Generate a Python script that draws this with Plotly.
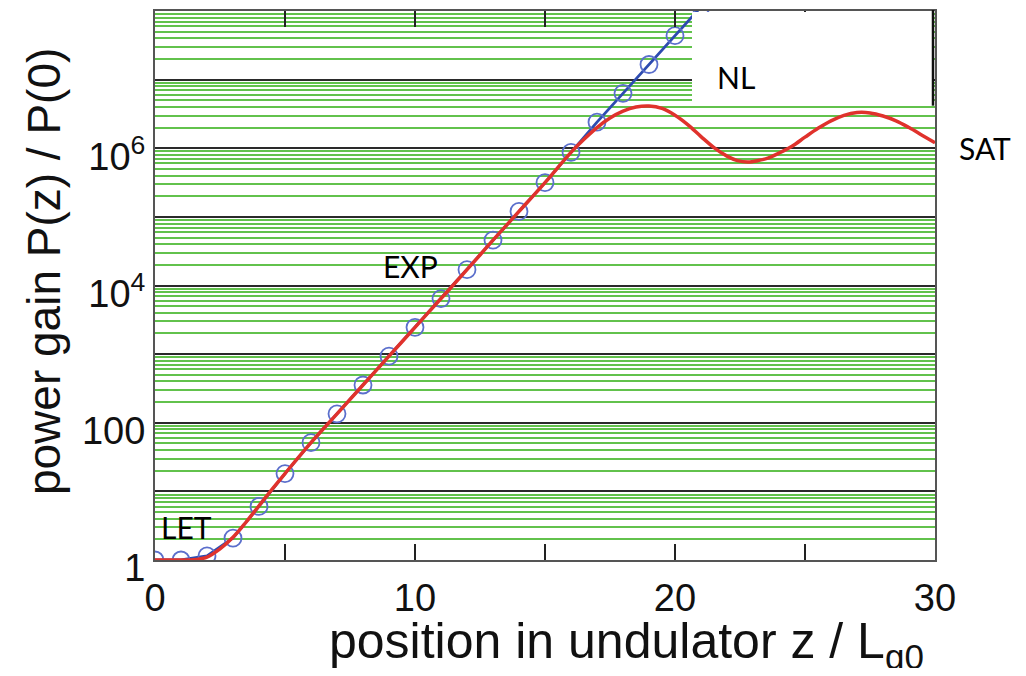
import plotly.graph_objects as go

# ---- data ----
z_theory = [0, 1, 2, 3, 4, 5, 6, 7, 8, 9, 10, 11, 12, 13, 14, 15, 16, 17, 18, 19, 20, 21]
gain_theory = [1.0, 1.0, 1.15, 2.09, 6.03, 18.2, 51.3, 135, 355, 933, 2455, 6457,
               1.70e4, 4.57e4, 1.20e5, 3.16e5, 8.71e5, 2.40e6, 6.31e6, 1.66e7, 4.37e7, 1.15e8]

z_sim = [0, 1, 1.5, 2, 2.5, 3, 3.5, 4, 4.5, 5, 6, 7, 8, 9, 10, 11, 12, 13, 14, 15, 16,
         16.5, 17, 17.5, 18, 18.5, 19, 19.5, 20, 20.5, 21, 21.5, 22, 22.4, 22.8, 23.2,
         23.6, 24, 24.5, 25, 25.5, 26, 26.5, 27, 27.5, 28, 28.5, 29, 29.5, 30]
gain_sim = [1.0, 1.0, 1.01, 1.10, 1.45, 2.14, 3.55, 6.17, 10.7, 18.2, 51.3, 135, 355, 933,
            2455, 6457, 1.70e4, 4.57e4, 1.20e5, 3.16e5, 8.71e5, 1.35e6, 2.0e6, 2.75e6,
            3.47e6, 3.98e6, 4.12e6, 3.80e6, 3.02e6, 2.19e6, 1.48e6, 1.02e6, 7.67e5, 6.61e5,
            6.31e5, 6.61e5, 7.24e5, 8.51e5, 1.07e6, 1.45e6, 1.95e6, 2.51e6, 3.02e6, 3.31e6,
            3.27e6, 2.95e6, 2.51e6, 2.0e6, 1.55e6, 1.20e6]

x_tickvals = [0, 5, 10, 15, 20, 25, 30]
x_ticktext = ["0", "", "10", "", "20", "", "30"]
y_tickvals = [1, 10, 100, 1e3, 1e4, 1e5, 1e6, 1e7, 1e8]
y_ticktext = ["1", "", "100", "", "10<sup>4</sup>", "", "10<sup>6</sup>", "", ""]
region_labels = ["LET", "EXP", "NL", "SAT"]
x_title = "position in undulator z / L<sub>g0</sub>"
y_title = "power gain P(z) / P(0)"

minor_vals = [m * 10 ** k for k in range(8) for m in range(2, 10)]

# page body has an 8px margin; figure sized to fit the 1026x676 window
OFF = 8
W, H = 1010, 660
L, T = 155 - OFF, 8 - OFF + 1
PR, PB = 935 - OFF, 560 - OFF
R, B = W - PR, H - PB
pw, ph = PR - L, PB - T


def px(x):
    return (x - OFF - L) / pw


def py(y):
    return (PB - (y - OFF)) / ph


fig = go.Figure()
fig.add_trace(go.Scatter(
    x=z_theory, y=gain_theory, mode="lines+markers",
    line=dict(color="#2d4bb0", width=2.8),
    marker=dict(symbol="circle-open", size=17, color="#5b6fcc", line=dict(width=1.8)),
    showlegend=False))
fig.add_trace(go.Scatter(
    x=z_sim, y=gain_sim, mode="lines", line=dict(color="#e0322c", width=3.5, shape="spline"),
    showlegend=False))

fig.update_layout(
    width=W, height=H,
    margin=dict(l=L, r=R, t=T, b=B),
    paper_bgcolor="white", plot_bgcolor="white",
    font=dict(family="Liberation Sans, Arial, sans-serif", color="#111"),
    xaxis=dict(
        range=[0, 30], tickvals=x_tickvals, ticktext=x_ticktext,
        ticks="inside", ticklen=16, tickwidth=2, tickcolor="#222",
        showline=True, linecolor="#555", linewidth=2, mirror="ticks",
        showgrid=False, zeroline=False, ticklabelstandoff=3,
        tickfont=dict(size=38),
    ),
    yaxis=dict(
        type="log", range=[0, 8], tickvals=y_tickvals, ticktext=y_ticktext,
        ticks="", showline=True, linecolor="#555", linewidth=2, mirror=True,
        showgrid=True, gridcolor="#2a2a2a", gridwidth=2, zeroline=False,
        tickfont=dict(size=38), ticklabelshift=8,
        minor=dict(tickvals=minor_vals, showgrid=True, gridcolor="#62c24c", gridwidth=2, ticks=""),
    ),
    shapes=[
        dict(type="rect", xref="paper", yref="paper", x0=px(692), x1=px(933),
             y0=py(104), y1=py(10), fillcolor="white", line=dict(width=0), layer="above"),
        dict(type="line", xref="paper", yref="paper", x0=px(933), x1=px(933),
             y0=py(104), y1=py(8), line=dict(color="#111", width=2.5), layer="above"),
    ],
)

# axis titles (placed as in the reference)
fig.add_annotation(text=x_title, xref="paper", yref="paper", x=px(626), y=py(645),
                   xanchor="center", yanchor="middle", showarrow=False,
                   font=dict(size=50, color="#111"))
fig.add_annotation(text=y_title, xref="paper", yref="paper", x=px(44), y=py(271),
                   xanchor="center", yanchor="middle", showarrow=False, textangle=-90,
                   font=dict(size=46, color="#111"))

label_pos = [(186, 527), (410, 265), (736, 75), (985, 147)]
for text, (ax, ay) in zip(region_labels, label_pos):
    fig.add_annotation(text=text, xref="paper", yref="paper", x=px(ax), y=py(ay),
                       xanchor="center", yanchor="middle", showarrow=False,
                       font=dict(family="Lato, Noto Sans, sans-serif", size=30, color="black"))

fig.write_html("out.html")
